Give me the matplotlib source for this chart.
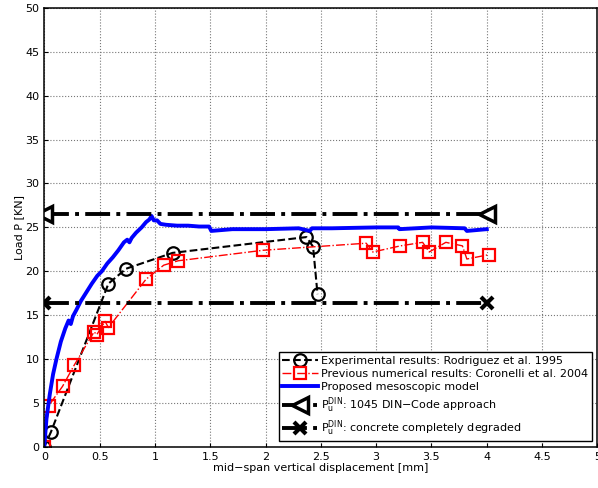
import numpy as np
import matplotlib.pyplot as plt

# Experimental results (Rodriguez et al. 1995)
exp_x = [0.0, 0.06, 0.58, 0.74, 1.16, 2.37, 2.43, 2.47]
exp_y = [0.0, 1.7, 18.6, 20.3, 22.1, 23.9, 22.8, 17.4]

# Previous numerical results (Coronelli et al. 2004)
num_x = [0.0, 0.04, 0.165, 0.27, 0.45, 0.475, 0.55, 0.58, 0.92, 1.08, 1.21,
         1.98, 2.91, 2.97, 3.22, 3.42, 3.48, 3.63, 3.78, 3.82, 4.02]
num_y = [0.0, 4.7, 6.9, 9.3, 13.1, 12.8, 14.3, 13.6, 19.1, 20.7, 21.2,
         22.4, 23.2, 22.2, 22.9, 23.3, 22.2, 23.3, 22.9, 21.4, 21.9]

# Proposed mesoscopic model
mod_x = [0.0, 0.02, 0.05, 0.08, 0.11, 0.15, 0.19, 0.22, 0.24, 0.26, 0.29, 0.33,
         0.38, 0.43, 0.48, 0.52, 0.57, 0.62, 0.67, 0.72, 0.75, 0.77, 0.79, 0.83,
         0.88, 0.92, 0.95, 0.97, 0.99, 1.02, 1.05, 1.1, 1.2, 1.3, 1.4, 1.49,
         1.51, 1.7, 2.0, 2.3, 2.4, 2.42, 2.6, 3.0, 3.2, 3.21, 3.5, 3.8, 3.82, 4.0]
mod_y = [0.0, 3.2, 6.0, 8.3, 10.0, 12.0, 13.5, 14.4, 14.0, 14.9, 15.6, 16.6,
         17.6, 18.6, 19.5, 20.0, 20.9, 21.6, 22.4, 23.3, 23.6, 23.3, 23.8, 24.4,
         25.0, 25.6, 25.9, 26.3, 25.8, 25.8, 25.4, 25.3, 25.2, 25.2, 25.1, 25.1,
         24.6, 24.8, 24.8, 24.9, 24.6, 24.9, 24.9, 25.0, 25.0, 24.8, 25.0, 24.9, 24.6, 24.8]

# Code limits
din_x = [0.0, 4.0]
din_code = [26.5, 26.5]
din_degraded = [16.4, 16.4]

fig = plt.figure(figsize=(5.98, 4.88), dpi=100)
ax = fig.add_axes([0.074, 0.084, 0.925, 0.9])

ax.plot(exp_x, exp_y, 'k--o', lw=1.5, ms=9, mfc='none', mew=1.6,
        label='Experimental results: Rodriguez et al. 1995')
ax.plot(num_x, num_y, 'r-.s', lw=1.0, ms=8, mfc='none', mew=1.6,
        label='Previous numerical results: Coronelli et al. 2004')
ax.plot(mod_x, mod_y, color='#0000ff', lw=2.8, label='Proposed mesoscopic model')
ax.plot(din_x, din_code, 'k-.<', lw=2.8, ms=11, mfc='white', mew=2.5,
        label=r'P$_{\mathrm{u}}^{\mathrm{DIN}}$: 1045 DIN$-$Code approach')
ax.plot(din_x, din_degraded, 'k-.x', lw=2.8, ms=8, mew=3,
        label=r'P$_{\mathrm{u}}^{\mathrm{DIN}}$: concrete completely degraded')

ax.set_xlim(0, 5)
ax.set_ylim(0, 50)
ax.set_xticks(np.arange(0, 5.01, 0.5))
ax.set_yticks(np.arange(0, 50.1, 5))
ax.set_xticklabels(['0', '0.5', '1', '1.5', '2', '2.5', '3', '3.5', '4', '4.5', '5'])
ax.tick_params(labelsize=8, direction='in', length=3)
ax.grid(True, ls=':', color='#777777', lw=0.8)
ax.set_xlabel('mid\u2212span vertical displacement [mm]', fontsize=8, labelpad=1)
ax.set_ylabel('Load P [KN]', fontsize=8, labelpad=1)
for s in ax.spines.values():
    s.set_linewidth(1.1)

leg = ax.legend(loc='lower right', fontsize=8, fancybox=False, edgecolor='k',
                framealpha=1, handlelength=3.2, borderaxespad=0.5,
                labelspacing=0.3, handletextpad=0.3, borderpad=0.3)
leg.get_frame().set_linewidth(1.0)

fig.savefig('out.png', dpi=100)
